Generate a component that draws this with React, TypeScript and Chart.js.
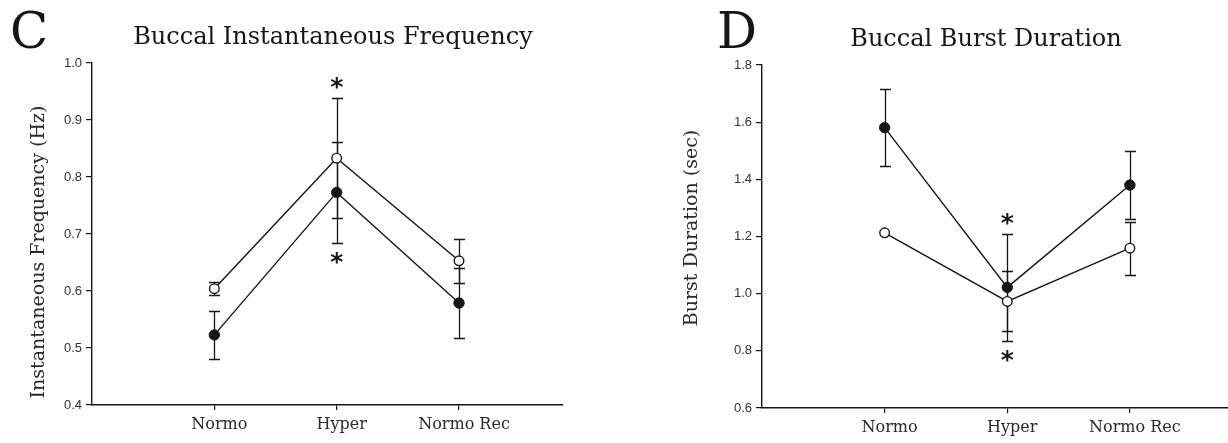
import React, { useEffect, useRef } from 'react';
import { Chart, registerables } from 'chart.js';

Chart.register(...registerables);

// Shared categories along the x axis
const conditions = ['Normo', 'Hyper', 'Normo Rec'];
const conditionX = [1, 2, 3];

// Panel C: buccal instantaneous frequency (Hz), mean ± SE
const freqFilled = [0.523, 0.773, 0.579];
const freqFilledErr = [0.042, 0.088, 0.061];
const freqOpen = [0.604, 0.833, 0.653];
const freqOpenErr = [0.011, 0.105, 0.039];
const freqTicks = [0.4, 0.5, 0.6, 0.7, 0.8, 0.9, 1.0];
const freqStars = [
  { index: 1, side: 'above' },
  { index: 1, side: 'below' },
];

// Panel D: buccal burst duration (sec), mean ± SE
const durFilled = [1.581, 1.022, 1.38];
const durFilledErr = [0.136, 0.187, 0.12];
const durOpen = [1.213, 0.973, 1.159];
const durOpenErr = [0, 0.105, 0.093];
const durTicks = [0.6, 0.8, 1.0, 1.2, 1.4, 1.6, 1.8];
const durStars = [
  { index: 1, side: 'above' },
  { index: 1, side: 'below' },
];

const INK = '#161616';
const SERIF = '"DejaVu Serif", "Liberation Serif", serif';
const SANS = '"Liberation Sans", Arial, sans-serif';

const errorBarPlugin = {
  id: 'errorBars',
  beforeDatasetsDraw(chart: any) {
    const { ctx, scales } = chart;
    const x = scales.x;
    const y = scales.y;
    ctx.save();
    ctx.strokeStyle = INK;
    ctx.lineWidth = 1.3;
    chart.data.datasets.forEach((ds: any) => {
      const errs: number[] = ds.errors || [];
      ds.data.forEach((p: any, i: number) => {
        const e = errs[i];
        if (!e) return;
        const px = Math.round(x.getPixelForValue(p.x)) + 0.5;
        const top = Math.round(y.getPixelForValue(p.y + e)) + 0.5;
        const bot = Math.round(y.getPixelForValue(p.y - e)) + 0.5;
        ctx.beginPath();
        ctx.moveTo(px, top);
        ctx.lineTo(px, bot);
        ctx.moveTo(px - 5.5, top);
        ctx.lineTo(px + 5.5, top);
        ctx.moveTo(px - 5.5, bot);
        ctx.lineTo(px + 5.5, bot);
        ctx.stroke();
      });
    });
    ctx.restore();
  },
  afterDatasetsDraw(chart: any, _args: any, opts: any) {
    const stars = opts.stars || [];
    if (!stars.length) return;
    const { ctx, scales } = chart;
    const x = scales.x;
    const y = scales.y;
    ctx.save();
    ctx.fillStyle = INK;
    ctx.font = `bold 25px "DejaVu Sans", sans-serif`;
    ctx.textAlign = 'center';
    ctx.textBaseline = 'alphabetic';
    const m = ctx.measureText('*');
    const shift = (m.actualBoundingBoxAscent - m.actualBoundingBoxDescent) / 2;
    stars.forEach((s: any) => {
      let px = 0;
      let edge = s.side === 'above' ? Infinity : -Infinity;
      chart.data.datasets.forEach((ds: any) => {
        const p = ds.data[s.index];
        const e = (ds.errors || [])[s.index] || 0;
        px = x.getPixelForValue(p.x);
        if (s.side === 'above') edge = Math.min(edge, y.getPixelForValue(p.y + e));
        else edge = Math.max(edge, y.getPixelForValue(p.y - e));
      });
      const cy = s.side === 'above' ? edge - 15 : edge + 15;
      ctx.fillText('*', px, cy + shift);
    });
    ctx.restore();
  },
};

const panelTextPlugin = {
  id: 'panelText',
  afterDraw(chart: any, _args: any, opts: any) {
    const { ctx } = chart;
    ctx.save();
    ctx.fillStyle = INK;
    ctx.textBaseline = 'alphabetic';
    ctx.textAlign = 'left';
    ctx.font = `50px ${SERIF}`;
    ctx.fillText(opts.letter, opts.letterX, opts.letterY);
    ctx.textAlign = 'center';
    ctx.font = `24px ${SERIF}`;
    ctx.fillText(opts.title, opts.titleX, opts.titleY);
    ctx.translate(opts.yTitleX, opts.yTitleY);
    ctx.rotate(-Math.PI / 2);
    ctx.textBaseline = 'middle';
    ctx.font = `19px ${SERIF}`;
    ctx.fillStyle = '#2a2a2a';
    ctx.fillText(opts.yTitle, 0, 0);
    ctx.restore();
  },
};

type PanelSpec = {
  letter: string;
  title: string;
  yTitle: string;
  filled: number[];
  filledErr: number[];
  open: number[];
  openErr: number[];
  yTicks: number[];
  stars: { index: number; side: string }[];
  xMax: number;
  padLeft: number;
  padRight: number;
  padTop: number;
  xHeight: number;
  letterX: number;
  letterY: number;
  titleX: number;
  titleY: number;
  yTitleX: number;
  yTitleY: number;
};

const Y_WIDTH = 60;

function buildConfig(spec: PanelSpec): any {
  const pts = (vals: number[]) => conditionX.map((x, i) => ({ x, y: vals[i] }));
  return {
    type: 'line',
    data: {
      datasets: [
        {
          label: 'filled',
          data: pts(spec.filled),
          errors: spec.filledErr,
          borderColor: INK,
          borderWidth: 1.4,
          pointRadius: 5.2,
          pointBackgroundColor: INK,
          pointBorderColor: INK,
          pointBorderWidth: 1,
          tension: 0,
          fill: false,
        },
        {
          label: 'open',
          data: pts(spec.open),
          errors: spec.openErr,
          borderColor: INK,
          borderWidth: 1.4,
          pointRadius: 4.8,
          pointBackgroundColor: '#ffffff',
          pointBorderColor: INK,
          pointBorderWidth: 1.4,
          tension: 0,
          fill: false,
        },
      ],
    },
    options: {
      animation: false,
      responsive: false,
      events: [],
      layout: {
        autoPadding: false,
        padding: { left: spec.padLeft, right: spec.padRight, top: spec.padTop, bottom: 0 },
      },
      plugins: {
        legend: { display: false },
        tooltip: { enabled: false },
        title: { display: false },
        errorBars: { stars: spec.stars },
        panelText: {
          letter: spec.letter,
          letterX: spec.letterX,
          letterY: spec.letterY,
          title: spec.title,
          titleX: spec.titleX,
          titleY: spec.titleY,
          yTitle: spec.yTitle,
          yTitleX: spec.yTitleX,
          yTitleY: spec.yTitleY,
        },
      },
      scales: {
        x: {
          type: 'linear',
          min: 0,
          max: spec.xMax,
          afterBuildTicks: (s: any) => {
            s.ticks = conditionX.map((v) => ({ value: v }));
          },
          afterFit: (s: any) => {
            s.height = spec.xHeight;
          },
          ticks: {
            callback: (_v: any, i: number) => conditions[i],
            font: { family: SERIF, size: 16 },
            color: '#2a2a2a',
            labelOffset: 5,
            padding: 5,
            maxRotation: 0,
            autoSkip: false,
          },
          grid: {
            drawOnChartArea: false,
            drawTicks: true,
            tickLength: 5,
            color: INK,
            lineWidth: 1.2,
          },
          border: { display: true, color: INK, width: 1.4 },
        },
        y: {
          type: 'linear',
          min: spec.yTicks[0],
          max: spec.yTicks[spec.yTicks.length - 1],
          afterBuildTicks: (s: any) => {
            s.ticks = spec.yTicks.map((v) => ({ value: v }));
          },
          afterFit: (s: any) => {
            s.width = Y_WIDTH;
          },
          ticks: {
            callback: (v: any) => Number(v).toFixed(1),
            font: { family: SANS, size: 13 },
            color: '#333333',
            padding: 4,
          },
          grid: {
            drawOnChartArea: false,
            drawTicks: true,
            tickLength: 6,
            color: INK,
            lineWidth: 1.2,
          },
          border: { display: true, color: INK, width: 1.4 },
        },
      },
    },
    plugins: [errorBarPlugin, panelTextPlugin],
  };
}

const panelC: PanelSpec = {
  letter: 'C',
  title: 'Buccal Instantaneous Frequency',
  yTitle: 'Instantaneous Frequency (Hz)',
  filled: freqFilled,
  filledErr: freqFilledErr,
  open: freqOpen,
  openErr: freqOpenErr,
  yTicks: freqTicks,
  stars: freqStars,
  xMax: 3.85,
  padLeft: 92 - Y_WIDTH,
  padRight: 51,
  padTop: 63,
  xHeight: 38,
  letterX: 10,
  letterY: 48,
  titleX: 333,
  titleY: 44,
  yTitleX: 39,
  yTitleY: 252,
};

const panelD: PanelSpec = {
  letter: 'D',
  title: 'Buccal Burst Duration',
  yTitle: 'Burst Duration (sec)',
  filled: durFilled,
  filledErr: durFilledErr,
  open: durOpen,
  openErr: durOpenErr,
  yTicks: durTicks,
  stars: durStars,
  xMax: 3.8,
  padLeft: 148 - Y_WIDTH,
  padRight: 0,
  padTop: 65,
  xHeight: 35,
  letterX: 103,
  letterY: 48,
  titleX: 372,
  titleY: 46,
  yTitleX: 78,
  yTitleY: 228,
};

const W = 614;
const H = 443;

function Panel({ spec, left }: { spec: PanelSpec; left: number }) {
  const ref = useRef<HTMLCanvasElement | null>(null);
  useEffect(() => {
    if (!ref.current) return;
    const chart = new Chart(ref.current, buildConfig(spec));
    return () => chart.destroy();
  }, [spec]);
  return (
    <canvas
      ref={ref}
      width={W}
      height={H}
      style={{ position: 'absolute', left, top: 0, width: W, height: H }}
    />
  );
}

export default function App() {
  return (
    <div
      style={{
        position: 'absolute',
        left: 0,
        top: 0,
        width: 1228,
        height: 443,
        background: '#ffffff',
        overflow: 'hidden',
      }}
    >
      <Panel spec={panelC} left={0} />
      <Panel spec={panelD} left={614} />
    </div>
  );
}
